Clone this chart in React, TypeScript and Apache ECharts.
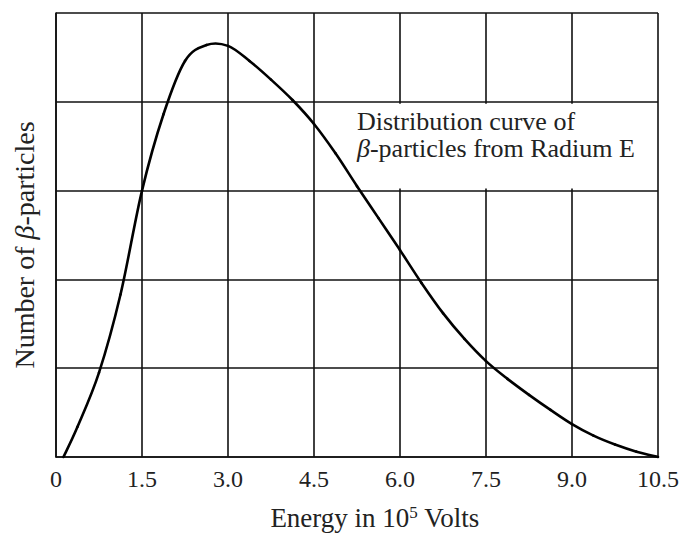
import React, { useEffect, useRef } from "react";
import * as echarts from "echarts";

// Energy in 10^5 volts
const energy = [0.13, 0.375, 0.75, 1.125, 1.5, 1.875, 2.25, 2.625, 3.0, 3.375, 3.75, 4.125, 4.5, 4.875, 5.25, 5.625, 6.0, 6.375, 6.75, 7.125, 7.5, 7.875, 8.25, 8.625, 9.0, 9.375, 9.75, 10.125, 10.5];
// Number of beta-particles (relative, in grid units)
const count = [0, 0.34, 0.95, 1.83, 3.0, 3.86, 4.46, 4.64, 4.63, 4.46, 4.25, 4.02, 3.75, 3.42, 3.05, 2.69, 2.33, 1.96, 1.62, 1.33, 1.08, 0.88, 0.7, 0.53, 0.37, 0.24, 0.14, 0.06, 0];

const xMin = 0;
const xMax = 10.5;
const xStep = 1.5;
const yMin = 0;
const yMax = 5;
const yStep = 1;

const SERIF = "Liberation Serif";
const INK = "#111";
const TEXT = "#222";

export default function App() {
  const ref = useRef<HTMLDivElement>(null);
  useEffect(() => {
    const chart = echarts.init(ref.current!, null, { renderer: "svg" });
    const points = energy.map((e, i) => [e, count[i]]);
    chart.setOption({
      animation: false,
      backgroundColor: "#fff",
      grid: { left: 56, right: 29, top: 13, bottom: 75, containLabel: false },
      xAxis: {
        type: "value",
        min: xMin,
        max: xMax,
        interval: xStep,
        axisLine: { show: true, lineStyle: { color: INK, width: 1.6 } },
        axisTick: { show: false },
        splitLine: { show: true, lineStyle: { color: INK, width: 1.6 } },
        axisLabel: {
          formatter: (v: number) => (v === 0 ? "0" : v.toFixed(1)),
          color: TEXT,
          fontFamily: SERIF,
          fontSize: 24,
          margin: 10,
        },
        name: "{n|Energy in 10}{s|5}{n| Volts}",
        nameLocation: "middle",
        nameGap: 47,
        nameTextStyle: {
          padding: [0, 0, 0, 36],
          rich: {
            n: { fontFamily: SERIF, fontSize: 27, color: TEXT },
            s: { fontFamily: SERIF, fontSize: 17, color: TEXT, verticalAlign: "top", padding: [0, 0, 10, 0] },
          },
        },
      },
      yAxis: {
        type: "value",
        min: yMin,
        max: yMax,
        interval: yStep,
        axisLine: { show: true, lineStyle: { color: INK, width: 1.6 } },
        axisTick: { show: false },
        axisLabel: { show: false },
        splitLine: { show: true, lineStyle: { color: INK, width: 1.6 } },
        name: "{n|Number of }{i|β}{n|-particles}",
        nameLocation: "middle",
        nameGap: 18,
        nameRotate: 90,
        nameTextStyle: {
          padding: [0, 20, 0, 0],
          rich: {
            n: { fontFamily: SERIF, fontSize: 28, color: TEXT },
            i: { fontFamily: SERIF, fontSize: 28, color: TEXT, fontStyle: "italic" },
          },
        },
      },
      series: [
        {
          type: "custom",
          coordinateSystem: "cartesian2d",
          data: points,
          z: 3,
          renderItem: (params: any, api: any) => {
            const i = params.dataIndex;
            const n = points.length;
            if (i >= n - 1) return null;
            const c = (k: number) => api.coord(points[Math.max(0, Math.min(n - 1, k))]);
            const p0 = c(i - 1);
            const p1 = c(i);
            const p2 = c(i + 1);
            const p3 = c(i + 2);
            return {
              type: "bezierCurve",
              shape: {
                x1: p1[0],
                y1: p1[1],
                cpx1: p1[0] + (p2[0] - p0[0]) / 6,
                cpy1: p1[1] + (p2[1] - p0[1]) / 6,
                cpx2: p2[0] - (p3[0] - p1[0]) / 6,
                cpy2: p2[1] - (p3[1] - p1[1]) / 6,
                x2: p2[0],
                y2: p2[1],
              },
              style: { stroke: "#000", lineWidth: 2.6, fill: null, lineCap: "round" },
            };
          },
        },
      ],
    });

    const p1 = chart.convertToPixel({ gridIndex: 0 }, [4.5, 4]) as number[];
    const p2 = chart.convertToPixel({ gridIndex: 0 }, [10.5, 3]) as number[];
    chart.setOption({
      graphic: [
        {
          type: "rect",
          z: 1,
          shape: { x: p1[0] + 3, y: p1[1] + 2, width: p2[0] - p1[0] - 6, height: p2[1] - p1[1] - 4 },
          style: { fill: "#fff" },
        },
        {
          type: "text",
          z: 4,
          x: p1[0] + 43,
          y: p1[1] + 6,
          style: {
            text: "{n|Distribution curve of}\n{i|β}{n|-particles from Radium E}",
            rich: {
              n: { fontFamily: SERIF, fontSize: 26, fill: TEXT, lineHeight: 27 },
              i: { fontFamily: SERIF, fontSize: 26, fill: TEXT, fontStyle: "italic", lineHeight: 27 },
            },
          },
        },
      ],
    });
    return () => chart.dispose();
  }, []);
  return (
    <div
      ref={ref}
      style={{ position: "fixed", left: 0, top: 0, width: 687, height: 536, background: "#fff" }}
    />
  );
}
